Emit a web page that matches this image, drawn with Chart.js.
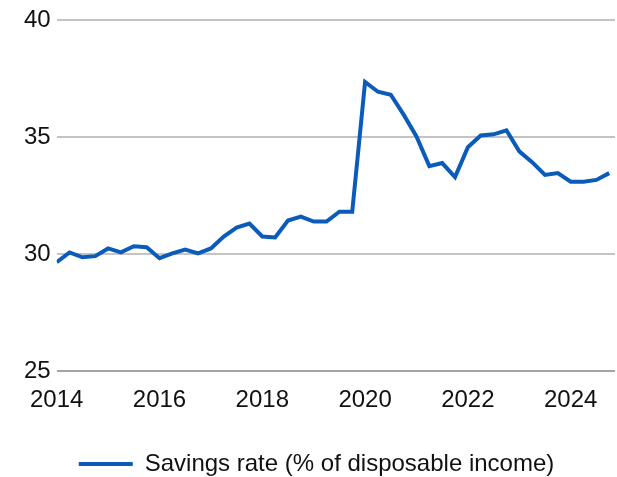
<!DOCTYPE html>
<html>
<head>
<meta charset="utf-8">
<script src="https://cdn.jsdelivr.net/npm/chart.js@4"></script>
<style>
  html, body { margin: 0; padding: 0; background: #fff; }
  #wrap { width: 617px; height: 477px; }
</style>
</head>
<body>
<div id="wrap"><canvas id="myChart" width="617" height="477"></canvas></div>
<script>
// quarters from 2014 Q1 to 2024 Q4
const firstYear = 2014;
const quarters = [];
for (let y = 2014; y <= 2024; y++) {
  for (let q = 1; q <= 4; q++) quarters.push(y + " Q" + q);
}
// savings rate, % of disposable income
const savingsRate = [
  29.66, 30.08, 29.87, 29.92, 30.25, 30.08, 30.34, 30.30,
  29.83, 30.04, 30.20, 30.04, 30.25, 30.76, 31.14, 31.31,
  30.76, 30.72, 31.44, 31.61, 31.40, 31.40, 31.82, 31.82,
  37.37, 36.95, 36.82, 35.97, 35.04, 33.77, 33.90, 33.30,
  34.58, 35.08, 35.13, 35.30, 34.40, 33.94, 33.39, 33.47,
  33.10, 33.10, 33.18, 33.47
];
const yTicks = [25, 30, 35, 40];
const seriesLabel = "Savings rate (% of disposable income)";

const font = "'Liberation Sans', Arial, sans-serif";
const blue = "#0A5BBA";

const points = savingsRate.map((v, i) => ({ x: i, y: v }));

new Chart(document.getElementById("myChart"), {
  type: "line",
  data: {
    datasets: [
      {
        label: seriesLabel,
        data: points,
        borderColor: blue,
        backgroundColor: blue,
        borderWidth: 4,
        pointRadius: 0,
        tension: 0,
      },
    ],
  },
  options: {
    responsive: false,
    animation: false,
    layout: { padding: { top: 5, right: 2, left: 18, bottom: -9 } },
    plugins: {
      tooltip: { enabled: false },
      legend: {
        position: "bottom",
        labels: {
          usePointStyle: true,
          pointStyle: "line",
          pointStyleWidth: 54,
          color: "#111",
          font: { family: font, size: 24 },
          padding: 0,
        },
      },
    },
    scales: {
      x: {
        type: "linear",
        min: 0,
        max: 43.45,
        grid: { display: false, drawTicks: false },
        border: { display: false },
        afterFit: (axis) => {
          axis.height += 22;
        },
        ticks: {
          stepSize: 8,
          includeBounds: false,
          padding: 15,
          maxRotation: 0,
          color: "#111",
          font: { family: font, size: 24 },
          callback: (v) => firstYear + v / 4,
        },
      },
      y: {
        min: 25,
        max: 40,
        afterBuildTicks: (axis) => {
          axis.ticks = yTicks.map((v) => ({ value: v }));
        },
        grid: {
          drawTicks: false,
          lineWidth: 2,
          color: (c) => (c.tick && c.tick.value === 25 ? "#a3a3a3" : "#c4c4c4"),
        },
        border: { display: false },
        ticks: {
          padding: 6,
          color: "#111",
          font: { family: font, size: 24 },
        },
      },
    },
  },
});
</script>
</body>
</html>
